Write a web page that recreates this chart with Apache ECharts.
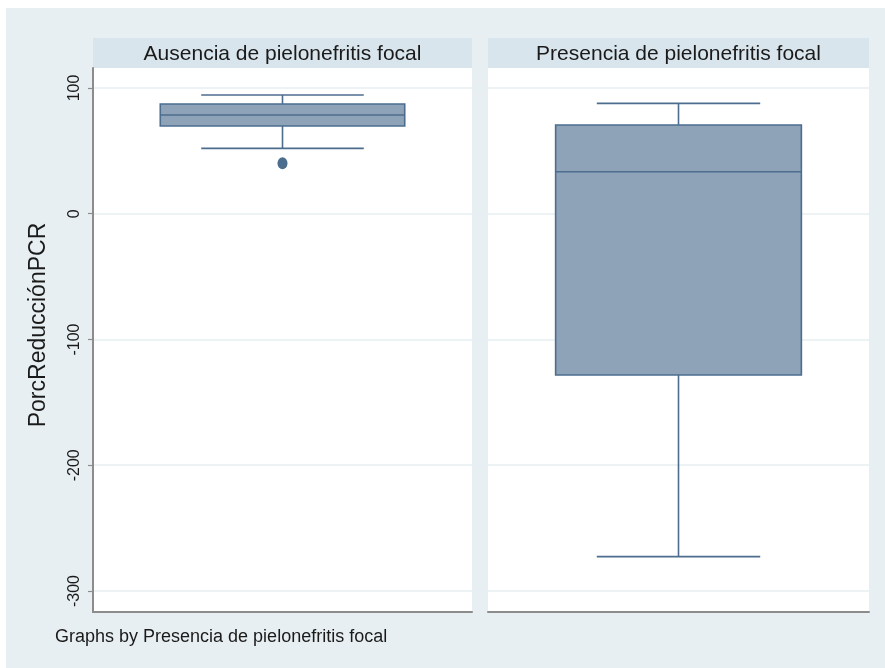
<!DOCTYPE html>
<html>
<head>
<meta charset="utf-8">
<script src="https://cdn.jsdelivr.net/npm/echarts@6/dist/echarts.min.js"></script>
<style>
  html, body { margin: 0; padding: 0; background: #ffffff; }
  #chart { width: 885px; height: 668px; }
</style>
</head>
<body>
<div id="chart"></div>
<script>
// ---- data ----
const categories = ['Ausencia de pielonefritis focal', 'Presencia de pielonefritis focal'];
const whiskerLow = [52.0, -272.7];
const q1 = [69.8, -128.2];
const median = [78.5, 33.4];
const q3 = [87.3, 70.6];
const whiskerHigh = [94.4, 87.8];
const outliers = [[0, 40.1]]; // [panel index, value]
const yTicks = [-300, -200, -100, 0, 100];
const yTitle = 'PorcReducciónPCR';
const footer = 'Graphs by Presencia de pielonefritis focal';

const Y_MIN = -316.7, Y_MAX = 115.9;

const font = 'Liberation Sans, Arial, Helvetica, sans-serif';
const boxFill = '#8ea3b8';
const boxStroke = '#4c6d8e';

function renderBox(params, api) {
  const x = api.value(0);
  const pMin = api.coord([x, api.value(1)]);
  const pQ1 = api.coord([x, api.value(2)]);
  const pMed = api.coord([x, api.value(3)]);
  const pQ3 = api.coord([x, api.value(4)]);
  const pMax = api.coord([x, api.value(5)]);
  const band = api.size([1, 0])[0];
  const bw = band * 0.645;
  const cw = bw * 0.665;
  const cx = pMed[0];
  const lineStyle = { stroke: boxStroke, lineWidth: 1.6, fill: null };
  return {
    type: 'group',
    children: [
      { type: 'line', shape: { x1: cx, y1: pMax[1], x2: cx, y2: pQ3[1] }, style: lineStyle },
      { type: 'line', shape: { x1: cx, y1: pQ1[1], x2: cx, y2: pMin[1] }, style: lineStyle },
      { type: 'line', shape: { x1: cx - cw / 2, y1: pMax[1], x2: cx + cw / 2, y2: pMax[1] }, style: lineStyle },
      { type: 'line', shape: { x1: cx - cw / 2, y1: pMin[1], x2: cx + cw / 2, y2: pMin[1] }, style: lineStyle },
      { type: 'rect', shape: { x: cx - bw / 2, y: pQ3[1], width: bw, height: pQ1[1] - pQ3[1] },
        style: { fill: boxFill, stroke: boxStroke, lineWidth: 1.6 } },
      { type: 'line', shape: { x1: cx - bw / 2, y1: pMed[1], x2: cx + bw / 2, y2: pMed[1] }, style: lineStyle }
    ]
  };
}

const grids = [
  { left: 93, top: 68, width: 379, height: 544 },
  { left: 488, top: 68, width: 381, height: 544 }
];

const xAxes = categories.map((c, i) => ({
  type: 'category', gridIndex: i, data: [c],
  axisLine: { show: true, onZero: false, lineStyle: { color: '#8c8c8c', width: 2 } },
  axisTick: { show: false }, axisLabel: { show: false }, splitLine: { show: false }
}));

const yAxes = categories.map((c, i) => ({
  type: 'value', gridIndex: i, min: Y_MIN, max: Y_MAX,
  name: i === 0 ? yTitle : '',
  nameLocation: 'middle', nameRotate: 90, nameGap: 43,
  nameTextStyle: { fontFamily: font, fontSize: 23, color: '#1a1a1a', padding: [0, 0, 0, 30] },
  axisLine: { show: i === 0, onZero: false, lineStyle: { color: '#8c8c8c', width: 2 } },
  axisTick: { show: i === 0, length: 5, customValues: yTicks, lineStyle: { color: '#8c8c8c', width: 1.2 } },
  axisLabel: { show: i === 0, customValues: yTicks, rotate: 90, margin: 10,
    fontFamily: font, fontSize: 16, color: '#1a1a1a' },
  splitLine: { show: true, lineStyle: { color: '#edf2f5', width: 2 } }
}));

const series = categories.map((c, i) => ({
  type: 'custom', xAxisIndex: i, yAxisIndex: i,
  renderItem: renderBox,
  data: [[0, whiskerLow[i], q1[i], median[i], q3[i], whiskerHigh[i]]],
  z: 5
}));
categories.forEach((c, i) => {
  const pts = outliers.filter(o => o[0] === i).map(o => [0, o[1]]);
  if (pts.length) {
    series.push({
      type: 'scatter', xAxisIndex: i, yAxisIndex: i, data: pts,
      symbol: 'circle', symbolSize: [10, 12],
      itemStyle: { color: '#1f4a72' }, z: 6
    });
  }
});

const graphics = [
  { type: 'rect', z: -10, shape: { x: 6, y: 8, width: 879, height: 660 }, style: { fill: '#e8eff2' } }
];
grids.forEach((g, i) => {
  graphics.push({ type: 'rect', z: -9, shape: { x: g.left, y: g.top, width: g.width, height: g.height }, style: { fill: '#ffffff' } });
  graphics.push({ type: 'rect', z: -9, shape: { x: g.left, y: 38, width: g.width, height: 30 }, style: { fill: '#d9e5ec' } });
  graphics.push({ type: 'text', z: 10, x: g.left + g.width / 2, y: 54,
    style: { text: categories[i], fontFamily: font, fontSize: 21, fill: '#1a1a1a', align: 'center', verticalAlign: 'middle' } });
});
graphics.push({ type: 'text', z: 10, x: 55, y: 637,
  style: { text: footer, fontFamily: font, fontSize: 18, fill: '#1a1a1a', align: 'left', verticalAlign: 'middle' } });

const chart = echarts.init(document.getElementById('chart'), null, { renderer: 'canvas' });
chart.setOption({
  animation: false,
  backgroundColor: '#ffffff',
  grid: grids,
  xAxis: xAxes,
  yAxis: yAxes,
  series: series,
  graphic: graphics
});
</script>
</body>
</html>
